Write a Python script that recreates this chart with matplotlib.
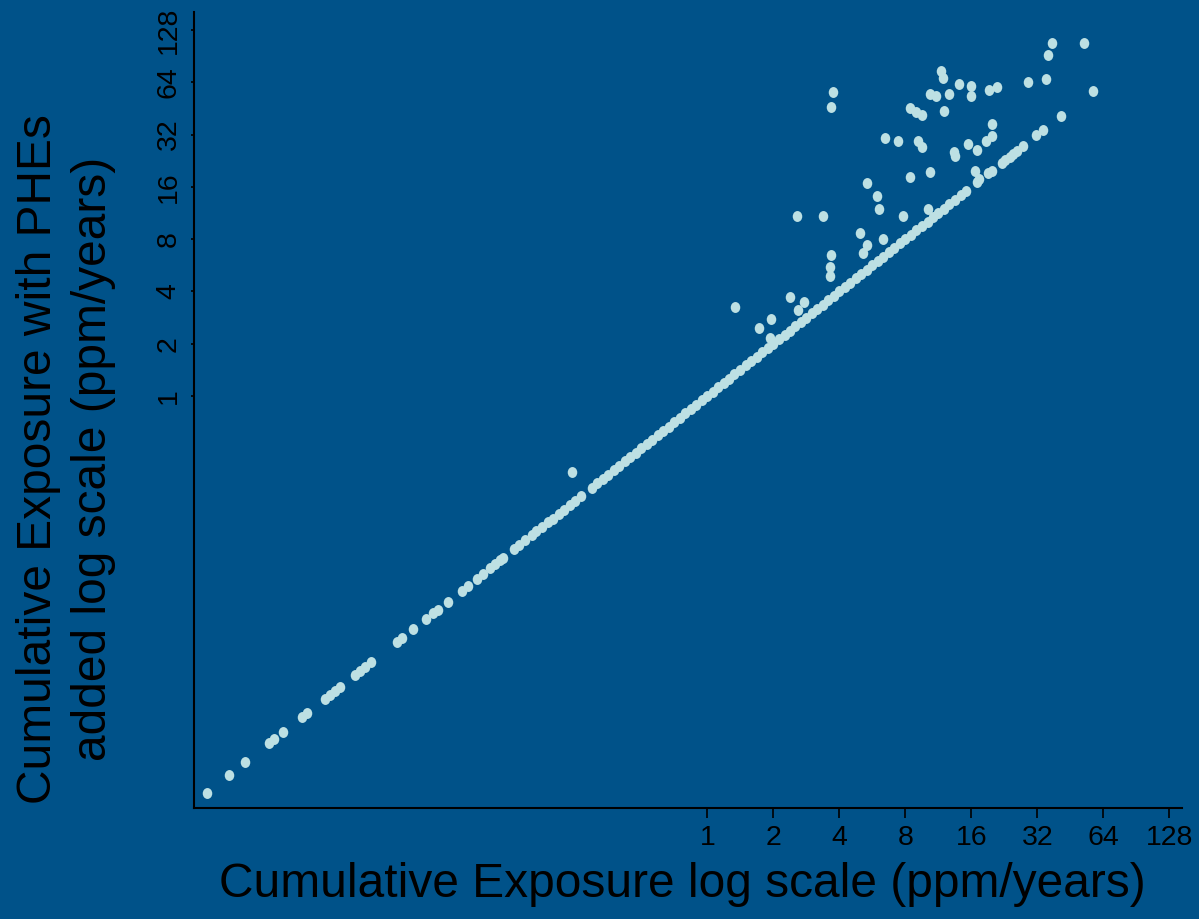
import matplotlib.pyplot as plt
import numpy as np
from matplotlib.path import Path
from matplotlib.transforms import Affine2D

plt.rcParams['font.family'] = ['Liberation Sans', 'DejaVu Sans']

bg_color = '#005289'
dot_color = '#BDE0E3'

# subjects with no PHE exposure sit on the identity line (y == x)
no_phe_exposure = [
    0.00521, 0.00661, 0.00779, 0.0100, 0.01056, 0.01157, 0.01413, 0.01489,
    0.01805, 0.01901, 0.02003, 0.02113, 0.02472, 0.02606, 0.02747, 0.02926,
    0.03831, 0.04038, 0.04547, 0.05194, 0.05609, 0.05893, 0.06544, 0.07582,
    0.0810, 0.08875, 0.09486, 0.1021, 0.1076, 0.1134, 0.1170,
    0.131, 0.139, 0.148, 0.158, 0.166, 0.176, 0.188, 0.197, 0.210, 0.222,
    0.237, 0.250, 0.266,
    0.297, 0.315, 0.334, 0.353, 0.375, 0.397, 0.420, 0.446, 0.472, 0.500,
    0.530, 0.561, 0.595, 0.630, 0.667, 0.707, 0.749, 0.794,
    0.841, 0.891, 0.944, 1.00, 1.06, 1.12, 1.19, 1.26, 1.33, 1.41, 1.50,
    1.59, 1.68, 1.78, 1.89, 2.00, 2.12, 2.25, 2.38, 2.52, 2.67, 2.83, 3.00,
    3.17, 3.36, 3.56, 3.78, 4.00, 4.24, 4.49, 4.76, 5.04, 5.34, 5.66, 5.99,
    6.35, 6.73, 7.13, 7.55, 8.00, 8.48, 8.98, 9.51, 10.1, 10.7, 11.3, 12.0,
    12.7, 13.5, 14.3, 15.1,
    17.0, 19.1, 19.8, 22.0, 22.8, 23.9, 24.8, 25.8, 27.6, 31.6, 33.9, 41.0,
    57.2,
]

# subjects whose exposure rises once PHEs are added
phe_exposure_x = [
    0.241, 1.34, 1.73, 1.95, 2.38, 2.59, 2.76, 2.57, 3.36, 3.67, 3.63, 3.61,
    4.97, 5.37, 5.11, 6.31, 5.33, 5.94, 6.07, 7.79, 8.38, 10.4, 6.48, 7.42,
    9.10, 9.57, 8.42, 8.95, 9.50, 10.4, 11.0, 11.6, 11.9, 12.7, 12.0, 14.1,
    15.9, 15.9, 19.3, 21.0, 29.1, 35.1, 35.9, 37.4, 52.4, 3.74, 3.67, 13.4,
    13.5, 15.5, 16.9, 18.6, 19.9, 19.8, 16.6, 17.4, 10.2, 1.93,
]
phe_exposure_y = [
    0.364, 3.25, 2.45, 2.79, 3.70, 3.13, 3.49, 10.9, 10.9, 6.48, 5.55, 4.88,
    8.73, 7.40, 6.65, 7.98, 16.9, 14.1, 11.9, 10.9, 18.2, 19.5, 30.4, 29.3,
    29.4, 27.0, 45.6, 42.9, 41.6, 54.7, 53.0, 73.9, 68.1, 54.7, 43.7, 62.1,
    60.8, 53.3, 57.6, 59.8, 64.4, 66.8, 91.8, 107, 108, 56.4, 46.3, 25.4,
    24.1, 28.2, 26.0, 29.2, 31.3, 36.9, 19.6, 17.7, 11.9, 2.17,
]

tick_values = [1, 2, 4, 8, 16, 32, 64, 128]
tick_labels = ['1', '2', '4', '8', '16', '32', '64', '128']

x_all = np.array(no_phe_exposure + phe_exposure_x)
y_all = np.array(no_phe_exposure + phe_exposure_y)

fig = plt.figure(figsize=(11.99, 9.19), dpi=100, facecolor=bg_color)
ax = fig.add_axes([194 / 1199, 1 - 808 / 919, 988 / 1199, 796 / 919])
ax.set_facecolor(bg_color)

# slightly tall oval marker, like the original
oval = Path.unit_circle().transformed(Affine2D().scale(0.87, 1.0))
ax.scatter(x_all, y_all, s=62, marker=oval, color=dot_color,
           linewidths=0, zorder=3)

ax.set_xscale('log', base=2)
ax.set_yscale('log', base=2)
ax.set_xlim(0.00456, 146.2)
ax.set_ylim(0.00425, 162.3)

ax.set_xticks(tick_values)
ax.set_xticklabels(tick_labels, fontsize=20.5)
ax.set_yticks(tick_values)
ax.set_yticklabels(tick_labels, fontsize=20.5, rotation=90, va='center')
ax.minorticks_off()

ax.tick_params(axis='x', length=7, width=1.2, pad=5, color='black')
ax.tick_params(axis='y', length=2, width=1.2, pad=7, color='black')

for side in ['top', 'right']:
    ax.spines[side].set_visible(False)
for side in ['left', 'bottom']:
    ax.spines[side].set_color('black')
    ax.spines[side].set_linewidth(1.5)

fig.text(682 / 1199, 1 - 897 / 919, 'Cumulative Exposure log scale (ppm/years)',
         fontsize=34.5, ha='center', va='baseline')
fig.text(66 / 1199, 1 - 459 / 919,
         'Cumulative Exposure with PHEs\nadded log scale (ppm/years)',
         fontsize=34.5, ha='center', va='center', rotation=90,
         multialignment='center', linespacing=1.3)

fig.savefig('out.png', dpi=100, facecolor=bg_color)
